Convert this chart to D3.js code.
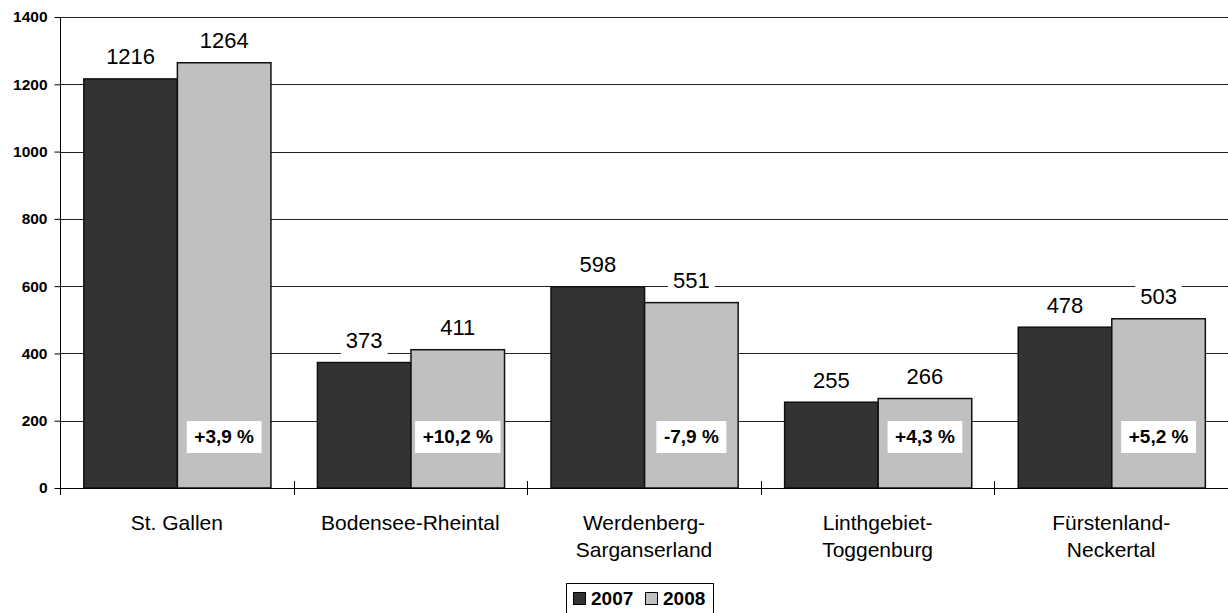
<!DOCTYPE html>
<html><head><meta charset="utf-8">
<script src="https://cdn.jsdelivr.net/npm/d3@7"></script>
<style>html,body{margin:0;padding:0;background:#fff;}svg{display:block;font-family:Arial,"Liberation Sans",sans-serif;}</style>
</head><body><svg id="c" width="1228" height="613"></svg>
<script>
const categories = [["St. Gallen"],["Bodensee-Rheintal"],["Werdenberg-","Sarganserland"],["Linthgebiet-","Toggenburg"],["Fürstenland-","Neckertal"]];
const years = ["2007","2008"];
const values2007 = [1216,373,598,255,478];
const values2008 = [1264,411,551,266,503];
const changes = ["+3,9 %","+10,2 %","-7,9 %","+4,3 %","+5,2 %"];
const yTicks = [0,200,400,600,800,1000,1200,1400];
const colors = ["#333333","#c0c0c0"];

const svg = d3.select("#c");
const L = 60, R = 1228, T = 17, B = 488;
const y = d3.scaleLinear().domain([0,1400]).range([B,T]);
const x0 = d3.scaleBand().domain(d3.range(categories.length)).range([L,R]).padding(0);
const bw = x0.bandwidth();
const x1 = d3.scaleBand().domain(years).range([bw*0.102, bw*0.903]).padding(0);

// gridlines
svg.append("g").selectAll("line").data(yTicks.filter(d=>d>0)).join("line")
  .attr("x1",L).attr("x2",R).attr("y1",d=>Math.round(y(d))+0.5).attr("y2",d=>Math.round(y(d))+0.5)
  .attr("stroke","#222").attr("stroke-width",1);

// y axis
const ya = svg.append("g").attr("transform",`translate(${L+0.5},0)`)
  .call(d3.axisLeft(y).tickValues(yTicks).tickSize(6).tickPadding(7).tickFormat(d3.format("d")));
ya.select(".domain").attr("stroke","#000").attr("d",`M0,${T}V${B}`);
ya.selectAll(".tick line").attr("stroke","#000");
ya.selectAll(".tick text").attr("font-size","15.5px").attr("font-weight","bold").attr("fill","#000")
  .attr("font-family","Arial, 'Liberation Sans', sans-serif");

// bars
const data = categories.map((c,i)=>({i, vals:[values2007[i],values2008[i]]}));
const g = svg.append("g").selectAll("g").data(data).join("g")
  .attr("transform",d=>`translate(${x0(d.i)},0)`);
g.selectAll("rect").data(d=>d.vals.map((v,k)=>({v,k}))).join("rect")
  .attr("x",d=>x1(years[d.k])).attr("width",x1.bandwidth())
  .attr("y",d=>y(d.v)).attr("height",d=>y(0)-y(d.v))
  .attr("fill",d=>colors[d.k]).attr("stroke","#111").attr("stroke-width",1.5);

// value labels with white backgrounds
g.each(function(d){
  const gg = d3.select(this);
  d.vals.forEach((v,k)=>{
    const cx = x1(years[k]) + x1.bandwidth()/2;
    const by = y(v) - 14.5;
    const t = gg.append("text").attr("x",cx).attr("y",by).attr("text-anchor","middle")
      .attr("font-size","22px").attr("fill","#000").text(v);
    const bb = t.node().getBBox();
    gg.insert("rect","text").attr("x",bb.x-5).attr("y",bb.y-1).attr("width",bb.width+10).attr("height",bb.height+3).attr("fill","#fff");
  });
  // change label
  const cx = x1(years[1]) + x1.bandwidth()/2;
  const t = gg.append("text").attr("x",cx).attr("y",y(0)-45).attr("text-anchor","middle")
    .attr("font-size","19px").attr("font-weight","bold").attr("fill","#000").text(changes[d.i]);
  const bb = t.node().getBBox();
  gg.insert("rect","text:last-of-type").attr("x",cx-bb.width/2-7.5).attr("y",y(0)-67).attr("width",bb.width+15).attr("height",32).attr("fill","#fff");
});
// make sure change labels on top of their boxes
g.selectAll("text").raise();

// x axis
svg.append("line").attr("x1",L).attr("x2",R).attr("y1",B+0.5).attr("y2",B+0.5).attr("stroke","#000");
svg.append("g").selectAll("line").data(d3.range(categories.length+1)).join("line")
  .attr("x1",i=>Math.round(L+i*bw)+0.5).attr("x2",i=>Math.round(L+i*bw)+0.5)
  .attr("y1",B-7).attr("y2",B+7).attr("stroke","#000");
svg.append("g").selectAll("text").data(categories).join("text")
  .attr("x",(d,i)=>x0(i)+bw/2).attr("y",530).attr("text-anchor","middle")
  .attr("font-size","21px").attr("fill","#000")
  .each(function(d){
    d3.select(this).selectAll("tspan").data(d).join("tspan")
      .attr("x",d3.select(this).attr("x")).attr("dy",(s,j)=>j===0?0:27).text(s=>s);
  });

// legend
const lg = svg.append("g");
lg.append("rect").attr("x",566.5).attr("y",583.5).attr("width",147).attr("height",40).attr("fill","#fff").attr("stroke","#000");
const lx = [573,645];
years.forEach((yr,k)=>{
  lg.append("rect").attr("x",lx[k]+0.5).attr("y",592.5).attr("width",12).attr("height",12).attr("fill",colors[k]).attr("stroke","#000");
  lg.append("text").attr("x",lx[k]+18).attr("y",605).attr("font-size","19px").attr("font-weight","bold").attr("fill","#000").text(yr);
});
</script></body></html>
